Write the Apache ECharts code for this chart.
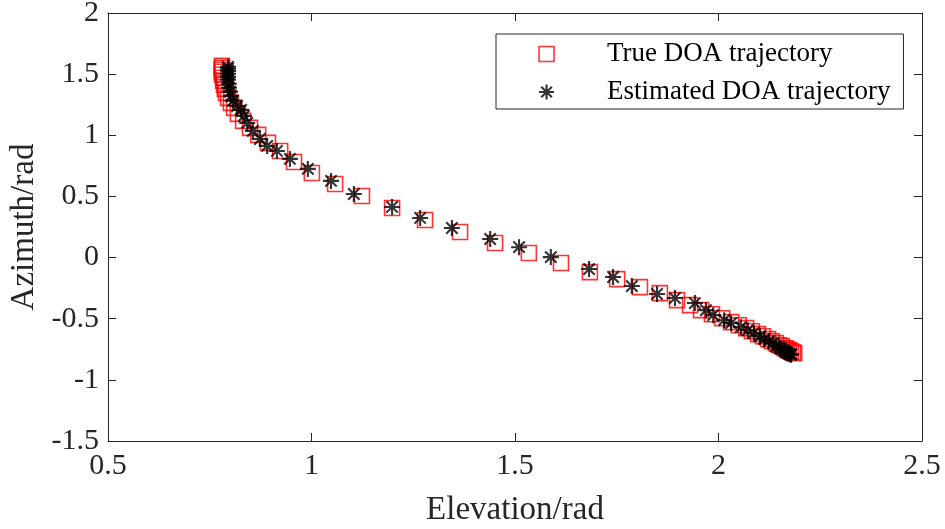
<!DOCTYPE html>
<html>
<head>
<meta charset="utf-8">
<script src="https://cdn.jsdelivr.net/npm/echarts@6/dist/echarts.min.js"></script>
<style>
html,body{margin:0;padding:0;background:#fff;}
#chart{width:945px;height:529px;}
</style>
</head>
<body>
<div id="chart"></div>
<script>
// Axis ticks
const xTicks = [0.5, 1, 1.5, 2, 2.5];
const yTicks = [-1.5, -1, -0.5, 0, 0.5, 1, 1.5, 2];

// True DOA trajectory (elevation, azimuth) in rad
const trueElev = [0.780,0.780,0.780,0.780,0.780,0.783,0.783,0.785,0.787,0.790,0.795,0.802,0.810,0.819,0.832,0.849,0.869,0.893,0.923,
  0.957,1.001,1.058,1.124,1.198,1.279,1.365,1.451,1.534,1.613,1.684,1.751,1.807,1.856,1.898,1.930,
  1.957,1.984,2.009,2.031,2.050,2.068,2.082,2.097,2.109,2.122,2.131,2.141,2.149,2.156,2.163,2.168,2.173,2.178,2.183,2.186];
const trueAzim = [1.568,1.552,1.536,1.519,1.495,1.470,1.446,1.413,1.380,1.347,1.306,1.265,1.224,1.175,1.118,1.061,1.003,0.938,0.872,
  0.782,0.692,0.602,0.504,0.405,0.307,0.209,0.119,0.037,-0.045,-0.119,-0.176,-0.242,-0.291,-0.348,-0.389,
  -0.430,-0.463,-0.496,-0.528,-0.553,-0.577,-0.602,-0.626,-0.643,-0.667,-0.684,-0.700,-0.717,-0.725,-0.741,-0.749,-0.758,-0.766,-0.774,-0.782];

// Estimated DOA trajectory (elevation, azimuth) in rad
const estElev = [0.795,0.795,0.795,0.795,0.795,0.795,0.797,0.797,0.800,0.802,0.807,0.817,0.827,0.834,0.842,0.856,0.873,0.891,0.915,
  0.947,0.991,1.048,1.104,1.198,1.267,1.345,1.439,1.510,1.588,1.682,1.741,1.787,1.849,1.893,1.942,
  1.969,1.987,2.014,2.031,2.055,2.072,2.087,2.102,2.112,2.124,2.134,2.141,2.149,2.154,2.161,2.166,2.171,2.174,2.178,2.179];
const estAzim = [1.560,1.544,1.527,1.503,1.478,1.454,1.421,1.389,1.356,1.323,1.282,1.241,1.208,1.159,1.101,1.036,0.970,0.913,0.872,
  0.807,0.725,0.627,0.520,0.414,0.324,0.242,0.152,0.085,0.004,-0.094,-0.159,-0.233,-0.298,-0.331,-0.372,
  -0.430,-0.471,-0.512,-0.536,-0.569,-0.594,-0.618,-0.643,-0.667,-0.684,-0.700,-0.725,-0.733,-0.749,-0.758,-0.774,-0.782,-0.790,-0.795,-0.790];

const seriesNames = ['True DOA trajectory', 'Estimated DOA trajectory'];

const trueData = trueElev.map((v, i) => [v, trueAzim[i]]);
const estData = estElev.map((v, i) => [v, estAzim[i]]);

const FONT = 'Liberation Serif';
const AX = '#262626';
const asterisk = 'path://M10,0L10,20M0,10L20,10M2.9,2.9L17.1,17.1M2.9,17.1L17.1,2.9';
const redStyle = {color: 'transparent', borderColor: '#ff0000', borderWidth: 1.6};
const blackStyle = {color: 'transparent', borderColor: '#000000', borderWidth: 2.1};

function xAxisCfg(pos, main) {
  return {
    type: 'value', position: pos, min: xTicks[0], max: xTicks[xTicks.length - 1], interval: 0.5,
    name: main ? 'Elevation/rad' : '', nameLocation: 'middle', nameGap: 53,
    nameTextStyle: {fontFamily: FONT, fontSize: 33, color: AX},
    axisLine: {show: true, onZero: false, lineStyle: {color: AX, width: 1}},
    axisTick: {show: true, inside: true, length: 8, lineStyle: {color: AX}},
    axisLabel: {show: main, fontFamily: FONT, fontSize: 30, color: AX, margin: 10,
      formatter: v => String(v)},
    splitLine: {show: false}
  };
}
function yAxisCfg(pos, main) {
  return {
    type: 'value', position: pos, min: yTicks[0], max: yTicks[yTicks.length - 1], interval: 0.5,
    name: main ? 'Azimuth/rad' : '', nameLocation: 'middle', nameGap: 61,
    nameTextStyle: {fontFamily: FONT, fontSize: 33, color: AX},
    axisLine: {show: true, onZero: false, lineStyle: {color: AX, width: 1}},
    axisTick: {show: true, inside: true, length: 8, lineStyle: {color: AX}},
    axisLabel: {show: main, fontFamily: FONT, fontSize: 30, color: AX, margin: 9,
      formatter: v => String(v)},
    splitLine: {show: false}
  };
}

const chart = echarts.init(document.getElementById('chart'), null, {renderer: 'canvas'});
chart.setOption({
  animation: false,
  backgroundColor: '#fff',
  grid: {left: 108, right: 23, top: 13, bottom: 88, containLabel: false, outerBoundsMode: 'none'},
  xAxis: [xAxisCfg('bottom', true), xAxisCfg('top', false)],
  yAxis: [yAxisCfg('left', true), yAxisCfg('right', false)],
  legend: {
    orient: 'vertical', left: 496, top: 34,
    padding: [5, 13, 2, 42],
    itemWidth: 15, itemHeight: 15, itemGap: 8,
    backgroundColor: '#fff', borderColor: AX, borderWidth: 1, borderRadius: 0,
    textStyle: {fontFamily: FONT, fontSize: 27, color: '#000', lineHeight: 30, padding: [0, 0, 0, 48]},
    data: [
      {name: seriesNames[0], icon: 'rect', itemStyle: redStyle},
      {name: seriesNames[1], icon: asterisk, itemStyle: blackStyle}
    ]
  },
  series: [
    {name: seriesNames[0], type: 'scatter', xAxisIndex: 0, yAxisIndex: 0, data: trueData,
      symbol: 'rect', symbolSize: 15, itemStyle: redStyle, emphasis: {disabled: true}, z: 2},
    {name: seriesNames[1], type: 'scatter', xAxisIndex: 0, yAxisIndex: 0, data: estData,
      symbol: asterisk, symbolSize: 16, itemStyle: blackStyle, emphasis: {disabled: true}, z: 3}
  ]
});
</script>
</body>
</html>
